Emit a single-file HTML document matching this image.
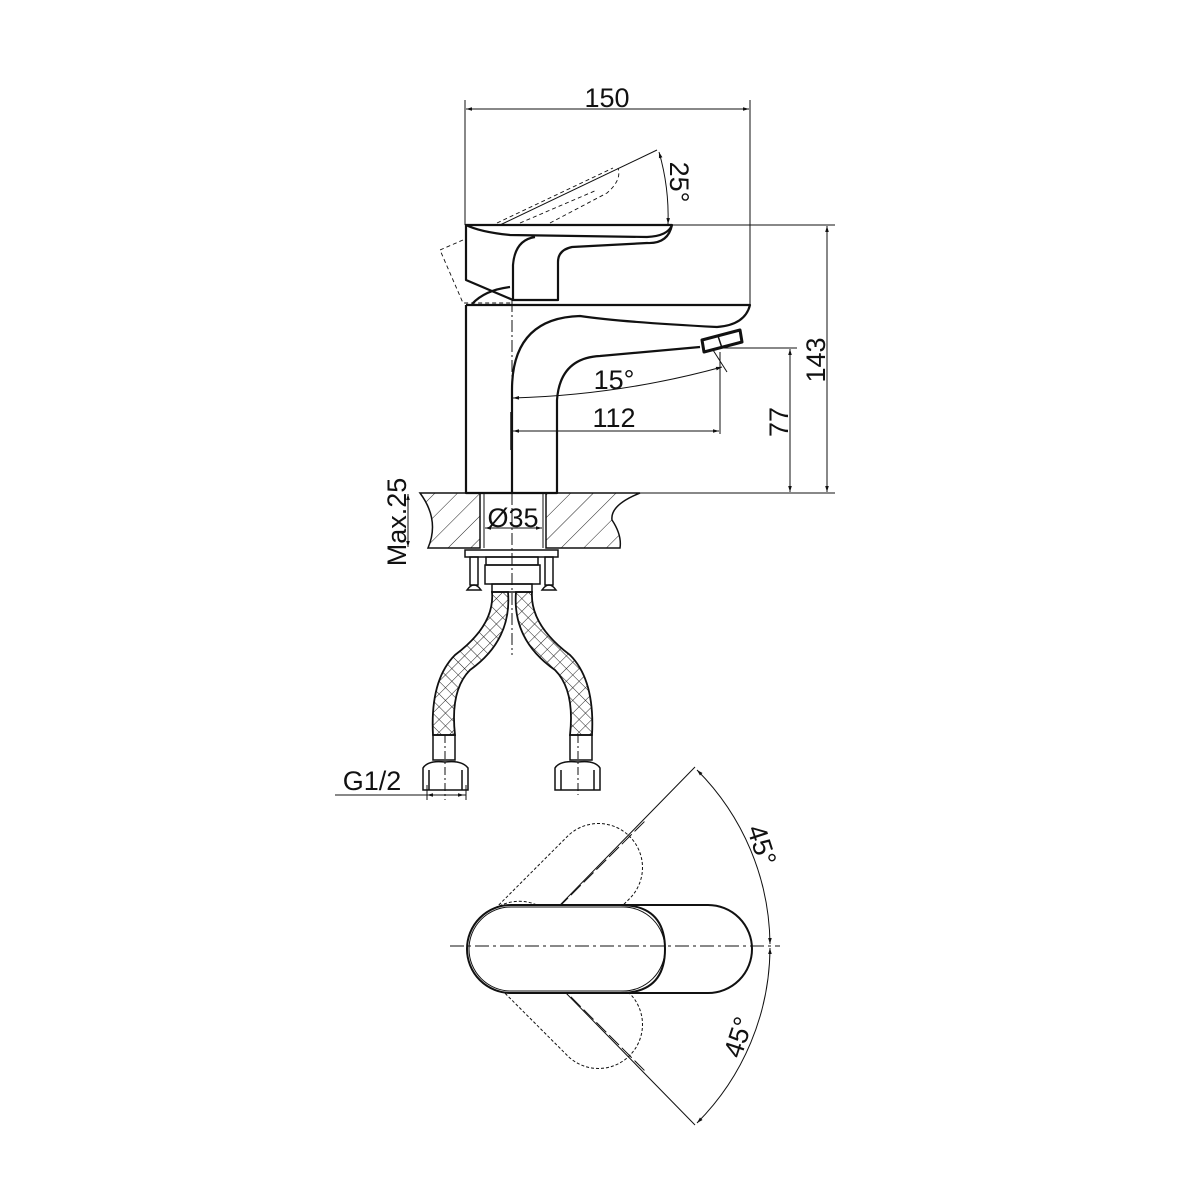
<!DOCTYPE html>
<html><head><style>body{margin:0;background:#fff}svg{display:block}text{font-family:"Liberation Sans",sans-serif;fill:#111}</style></head><body>
<svg width="1200" height="1200" viewBox="0 0 1200 1200" xmlns="http://www.w3.org/2000/svg">
<defs>
<marker id="a" viewBox="0 0 10 10" refX="10" refY="5" markerWidth="10" markerHeight="6" orient="auto-start-reverse" markerUnits="userSpaceOnUse"><path d="M0,2 L10,5 L0,8 z" fill="#111"/></marker>
<pattern id="h" width="16" height="16" patternUnits="userSpaceOnUse" patternTransform="rotate(45)"><line x1="0" y1="0" x2="0" y2="16" stroke="#222" stroke-width="1"/></pattern>
<pattern id="x" width="9" height="9" patternUnits="userSpaceOnUse" patternTransform="rotate(45)"><path d="M0,0 V9 M0,0 H9" stroke="#222" stroke-width="1" fill="none"/></pattern>
</defs>
<g fill="none" stroke="#111" stroke-width="1">
<line x1="465" y1="100" x2="465" y2="225"/><line x1="750" y1="100" x2="750" y2="305"/>
<line x1="466" y1="109" x2="749" y2="109" marker-start="url(#a)" marker-end="url(#a)"/>
<line x1="500" y1="225" x2="657" y2="150"/>
<path d="M659,152 A230,230 0 0 1 668,224" marker-start="url(#a)" marker-end="url(#a)"/>
<line x1="672" y1="225" x2="835" y2="225"/>
<line x1="827" y1="226" x2="827" y2="492" marker-start="url(#a)" marker-end="url(#a)"/>
<line x1="720" y1="348" x2="797" y2="348"/>
<line x1="790" y1="349" x2="790" y2="492" marker-start="url(#a)" marker-end="url(#a)"/>
<line x1="555" y1="493" x2="835" y2="493"/>
<path d="M513,398 Q620,395 722,367" marker-start="url(#a)" marker-end="url(#a)"/>
<line x1="713" y1="350" x2="727" y2="372"/>
<line x1="720" y1="352" x2="720" y2="434"/>
<line x1="513" y1="431" x2="719" y2="431" marker-start="url(#a)" marker-end="url(#a)"/>
<line x1="511" y1="412" x2="511" y2="450" stroke-width="1.5"/>
<g stroke-dasharray="4,3" stroke-width="0.9">
<path d="M497,223 L613,168"/><path d="M520,223 L597,190"/><path d="M550,223 L607,193 Q622,180 618,168"/>
<path d="M463,240 L440,250 L463,303 L513,303"/>
</g>
</g>
<g fill="none" stroke="#111" stroke-width="2.2" stroke-linejoin="round">
<path d="M466,225 L672,225 Q668,236 647,237 L510,235 Q480,232 466,225 Z"/>
<path d="M672,225 Q668,244 647,243 L572,247 Q558,250 558,262 L558,300 L513,300 L513,265 Q515,240 535,237"/>
<path d="M466,225 L466,280 L513,300"/>
<path d="M472,304 Q485,290 510,287"/>
<path d="M466,305 L466,493 L557,493 L557,400 Q560,358 600,356 L700,347"/>
<path d="M466,305 L750,305 Q745,325 717,327 Q620,322 580,316 Q512,318 512,390 L512,493"/>
<path d="M702,340 L740,330 L742,342 L704,352 Z" stroke-width="3"/>
<line x1="718" y1="336" x2="722" y2="348" stroke-width="1.5"/>
</g>
<line x1="512" y1="300" x2="512" y2="380" stroke="#111" stroke-width="1" stroke-dasharray="12,3,2,3"/>
<path d="M420,493 L480,493 L480,548 L428,548 Q440,520 420,493 Z" fill="url(#h)" stroke="#111" stroke-width="1.5"/>
<path d="M546,493 L640,493 Q610,505 612,520 Q622,535 620,548 L546,548 Z" fill="url(#h)" stroke="#111" stroke-width="1.5"/>
<line x1="640" y1="493" x2="835" y2="493" stroke="#111"/>
<line x1="484" y1="493" x2="484" y2="548" stroke="#111"/><line x1="543" y1="493" x2="543" y2="548" stroke="#111"/>
<line x1="485" y1="528" x2="542" y2="528" stroke="#111" marker-start="url(#a)" marker-end="url(#a)"/>
<line x1="408" y1="494" x2="408" y2="547" stroke="#111" marker-start="url(#a)" marker-end="url(#a)"/>
<line x1="512" y1="493" x2="512" y2="655" stroke="#111" stroke-dasharray="12,3,2,3"/>
<g fill="none" stroke="#111" stroke-width="1.5">
<rect x="465" y="550" width="93" height="7"/>
<rect x="470" y="557" width="8" height="28"/><rect x="545" y="557" width="8" height="28"/>
<path d="M467,590 Q474,580 481,590 Z M542,590 Q549,580 556,590 Z"/>
<rect x="486" y="557" width="52" height="8"/><rect x="485" y="565" width="55" height="19"/>
<rect x="492" y="584" width="40" height="8"/>
</g>
<path d="M492,592 L508,592 Q512,640 470,670 Q450,690 455,735 L433,735 Q430,680 455,655 Q495,625 492,592 Z" fill="url(#x)" stroke="#111" stroke-width="1.8"/>
<path d="M516,592 L532,592 Q530,625 570,655 Q595,680 592,735 L570,735 Q575,690 555,670 Q512,640 516,592 Z" fill="url(#x)" stroke="#111" stroke-width="1.8"/>
<g fill="none" stroke="#111" stroke-width="1.5">
<rect x="433" y="735" width="22" height="25"/><rect x="570" y="735" width="22" height="25"/>
<path d="M423,790 L423,768 Q428,760 445,762 Q462,760 468,768 L468,790 Z"/>
<path d="M555,790 L555,768 Q560,760 578,762 Q595,760 600,768 L600,790 Z"/>
<line x1="429" y1="770" x2="429" y2="790"/><line x1="462" y1="770" x2="462" y2="790"/>
<line x1="561" y1="770" x2="561" y2="790"/><line x1="594" y1="770" x2="594" y2="790"/>
</g>
<line x1="445" y1="735" x2="445" y2="800" stroke="#111" stroke-dasharray="8,3,2,3"/>
<line x1="578" y1="735" x2="578" y2="795" stroke="#111" stroke-dasharray="8,3,2,3"/>
<line x1="335" y1="795" x2="466" y2="795" stroke="#111"/>
<line x1="427" y1="795" x2="464" y2="795" stroke="#111" marker-start="url(#a)" marker-end="url(#a)"/>
<line x1="427" y1="785" x2="427" y2="800" stroke="#111"/><line x1="466" y1="785" x2="466" y2="800" stroke="#111"/>
<g fill="none" stroke="#111">
<line x1="520" y1="946" x2="695" y2="767"/><line x1="520" y1="946" x2="695" y2="1125"/>
<path d="M697,770 A250,250 0 0 1 770,944" marker-start="url(#a)" marker-end="url(#a)"/>
<path d="M770,948 A250,250 0 0 1 697,1123" marker-start="url(#a)" marker-end="url(#a)"/>
<g transform="rotate(-45 520 946)"><rect x="475" y="902" width="200" height="88" rx="44" stroke-dasharray="3,2"/><line x1="520" y1="946" x2="700" y2="946" stroke-dasharray="14,4"/></g>
<g transform="rotate(45 520 946)"><rect x="475" y="902" width="200" height="88" rx="44" stroke-dasharray="3,2"/><line x1="520" y1="946" x2="700" y2="946" stroke-dasharray="14,4"/></g>
<rect x="467" y="905" width="285" height="88" rx="44" fill="#fff" stroke-width="2"/>
<path d="M620,905 Q665,905 665,949 Q665,993 620,993" stroke-width="2"/>
<rect x="469" y="907" width="196" height="84" rx="42" stroke-width="1"/>
<line x1="450" y1="946" x2="780" y2="946" stroke-dasharray="14,4,3,4"/>
</g>
<text x="607" y="107" font-size="27" text-anchor="middle">150</text>
<text transform="translate(670,182) rotate(90)" font-size="27" text-anchor="middle">25°</text>
<text transform="translate(825,360) rotate(-90)" font-size="27" text-anchor="middle">143</text>
<text transform="translate(788,422) rotate(-90)" font-size="27" text-anchor="middle">77</text>
<text x="614" y="389" font-size="27" text-anchor="middle">15°</text>
<text x="614" y="427" font-size="27" text-anchor="middle">112</text>
<text x="513" y="527" font-size="27" text-anchor="middle">Ø35</text>
<text transform="translate(406,522) rotate(-90)" font-size="27" text-anchor="middle">Max.25</text>
<text x="372" y="790" font-size="27" text-anchor="middle">G1/2</text>
<text transform="translate(753,848) rotate(72)" font-size="27" text-anchor="middle">45°</text>
<text transform="translate(747,1040) rotate(-72)" font-size="27" text-anchor="middle">45°</text>
</svg>
</body></html>
